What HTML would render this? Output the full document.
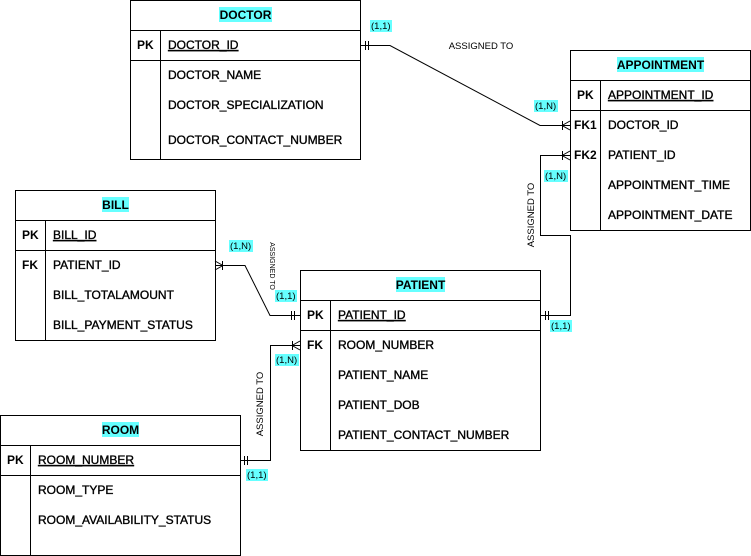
<!DOCTYPE html>
<html><head><meta charset="utf-8"><style>
html,body{margin:0;padding:0;background:#fff;}
svg{display:block;font-family:"Liberation Sans",Arial,sans-serif;}
.t{font-size:12px;fill:#000;stroke:#000;stroke-width:0.35;}
.h{font-size:12px;font-weight:bold;stroke:none;}
.b{fill:none;stroke:#000;stroke-width:1;}
.l{font-size:9.5px;fill:#000;}
.c{fill:#66ffff;}
</style></head><body>
<svg width="751" height="556" viewBox="0 0 751 556" xmlns="http://www.w3.org/2000/svg">
<g shape-rendering="crispEdges">
<rect x="130.5" y="0.5" width="230" height="159" class="b"/>
<line x1="130" y1="30.5" x2="361" y2="30.5" class="b"/>
<line x1="130" y1="60.5" x2="361" y2="60.5" class="b"/>
<line x1="160.5" y1="30" x2="160.5" y2="160" class="b"/>
<rect x="570.5" y="50.5" width="180" height="180" class="b"/>
<line x1="570" y1="80.5" x2="751" y2="80.5" class="b"/>
<line x1="570" y1="110.5" x2="751" y2="110.5" class="b"/>
<line x1="600.5" y1="80" x2="600.5" y2="231" class="b"/>
<rect x="15.5" y="190.5" width="200" height="150" class="b"/>
<line x1="15" y1="220.5" x2="216" y2="220.5" class="b"/>
<line x1="15" y1="250.5" x2="216" y2="250.5" class="b"/>
<line x1="45.5" y1="220" x2="45.5" y2="341" class="b"/>
<rect x="300.5" y="270.5" width="240" height="180" class="b"/>
<line x1="300" y1="300.5" x2="541" y2="300.5" class="b"/>
<line x1="300" y1="330.5" x2="541" y2="330.5" class="b"/>
<line x1="330.5" y1="300" x2="330.5" y2="451" class="b"/>
<rect x="0.5" y="415.5" width="240" height="140" class="b"/>
<line x1="0" y1="445.5" x2="241" y2="445.5" class="b"/>
<line x1="0" y1="475.5" x2="241" y2="475.5" class="b"/>
<line x1="30.5" y1="445" x2="30.5" y2="556" class="b"/>
<polyline points="540,155.5 540.5,155.5 540.5,235.5 570.5,235.5 570.5,315.5 540,315.5" class="b"/>
<polyline points="570,155.5 540,155.5" class="b"/>
<polyline points="240,460.5 270.5,460.5 270.5,345.5 300,345.5" class="b"/>
<line x1="365.5" y1="41" x2="365.5" y2="50" class="b"/><line x1="368.5" y1="41" x2="368.5" y2="50" class="b"/>
<line x1="545.5" y1="311" x2="545.5" y2="320" class="b"/><line x1="548.5" y1="311" x2="548.5" y2="320" class="b"/>
<line x1="291.5" y1="311" x2="291.5" y2="320" class="b"/><line x1="294.5" y1="311" x2="294.5" y2="320" class="b"/>
<line x1="244.5" y1="456" x2="244.5" y2="465" class="b"/><line x1="247.5" y1="456" x2="247.5" y2="465" class="b"/>
<line x1="562.5" y1="121" x2="562.5" y2="130" class="b"/>
<line x1="562.5" y1="151" x2="562.5" y2="160" class="b"/>
<line x1="292.5" y1="341" x2="292.5" y2="350" class="b"/>
<line x1="222.5" y1="261" x2="222.5" y2="270" class="b"/>
</g>
<polyline points="360,45.5 390,45.5 540,125.5 570,125.5" class="b"/>
<polyline points="215,265.5 245,265.5 270,315.5 300,315.5" class="b"/>
<path d="M562,125.5 L570,121 M562,125.5 L570,130" class="b"/>
<path d="M562,155.5 L570,151 M562,155.5 L570,160" class="b"/>
<path d="M292,345.5 L300,341 M292,345.5 L300,350" class="b"/>
<path d="M223,265.5 L215,261 M223,265.5 L215,270" class="b"/>
<rect x="219" y="7" width="53" height="15" class="c"/>
<text x="245.5" y="19" text-anchor="middle" class="h">DOCTOR</text>
<rect x="617" y="57" width="87" height="15" class="c"/>
<text x="660.5" y="69" text-anchor="middle" class="h">APPOINTMENT</text>
<rect x="102" y="197" width="27" height="15" class="c"/>
<text x="115.5" y="209" text-anchor="middle" class="h">BILL</text>
<rect x="396" y="277" width="49" height="15" class="c"/>
<text x="420.5" y="289" text-anchor="middle" class="h">PATIENT</text>
<rect x="102" y="422" width="37" height="15" class="c"/>
<text x="120.5" y="434" text-anchor="middle" class="h">ROOM</text>
<g class="t">
<text x="137" y="49" class="h">PK</text><text x="168" y="49" text-decoration="underline">DOCTOR_ID</text>
<text x="168" y="79">DOCTOR_NAME</text>
<text x="168" y="109">DOCTOR_SPECIALIZATION</text>
<text x="168" y="144">DOCTOR_CONTACT_NUMBER</text>
<text x="577" y="99" class="h">PK</text><text x="608" y="99" text-decoration="underline">APPOINTMENT_ID</text>
<text x="574" y="129" class="h">FK1</text><text x="608" y="129">DOCTOR_ID</text>
<text x="574" y="159" class="h">FK2</text><text x="608" y="159">PATIENT_ID</text>
<text x="608" y="189">APPOINTMENT_TIME</text>
<text x="608" y="219">APPOINTMENT_DATE</text>
<text x="22" y="239" class="h">PK</text><text x="53" y="239" text-decoration="underline">BILL_ID</text>
<text x="22" y="269" class="h">FK</text><text x="53" y="269">PATIENT_ID</text>
<text x="53" y="299">BILL_TOTALAMOUNT</text>
<text x="53" y="329">BILL_PAYMENT_STATUS</text>
<text x="307" y="319" class="h">PK</text><text x="338" y="319" text-decoration="underline">PATIENT_ID</text>
<text x="307" y="349" class="h">FK</text><text x="338" y="349">ROOM_NUMBER</text>
<text x="338" y="379">PATIENT_NAME</text>
<text x="338" y="409">PATIENT_DOB</text>
<text x="338" y="439">PATIENT_CONTACT_NUMBER</text>
<text x="7" y="464" class="h">PK</text><text x="38" y="464" text-decoration="underline">ROOM_NUMBER</text>
<text x="38" y="494">ROOM_TYPE</text>
<text x="38" y="524">ROOM_AVAILABILITY_STATUS</text>
</g>
<rect x="370" y="20" width="22" height="12" class="c"/><text x="371" y="29" class="l">(1,1)</text>
<rect x="534" y="100" width="24" height="12" class="c"/><text x="535" y="109" class="l">(1,N)</text>
<rect x="544" y="170" width="24" height="12" class="c"/><text x="545" y="179" class="l">(1,N)</text>
<rect x="550" y="320" width="22" height="12" class="c"/><text x="551" y="329" class="l">(1,1)</text>
<rect x="229" y="240" width="24" height="12" class="c"/><text x="230" y="249" class="l">(1,N)</text>
<rect x="275" y="290" width="22" height="12" class="c"/><text x="276" y="299" class="l">(1,1)</text>
<rect x="275" y="354" width="24" height="12" class="c"/><text x="276" y="363" class="l">(1,N)</text>
<rect x="246" y="469" width="22" height="12" class="c"/><text x="247" y="478" class="l">(1,1)</text>
<text x="481" y="49" text-anchor="middle" class="l">ASSIGNED TO</text>
<text transform="translate(527,215) rotate(-90)" text-anchor="middle" class="l" x="0" y="7">ASSIGNED TO</text>
<text transform="translate(256,404) rotate(-90)" text-anchor="middle" class="l" x="0" y="7">ASSIGNED TO</text>
<text transform="translate(270,266) rotate(90)" text-anchor="middle" style="font-size:7px" x="0" y="0">ASSIGNED TO</text>
</svg>
</body></html>
